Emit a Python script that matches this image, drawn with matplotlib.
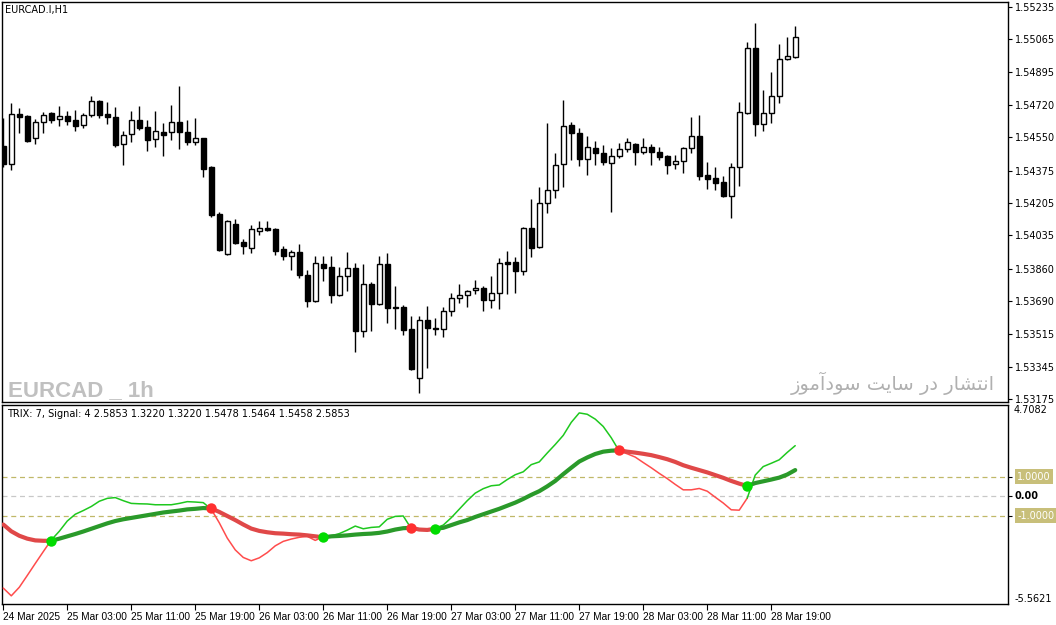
import numpy as np
import matplotlib
matplotlib.use("Agg")
import matplotlib.pyplot as plt
from matplotlib import font_manager

plt.rcParams['font.family'] = ['DejaVu Sans']

# EURCAD H1 candles, 24 Mar 19:00 .. 28 Mar 22:00
opens = [1.54504, 1.54409, 1.54672, 1.54661, 1.54546, 1.54630, 1.54677, 1.54645, 1.54661, 1.54640,
         1.54614, 1.54666, 1.54740, 1.54672, 1.54656, 1.54514, 1.54567, 1.54640, 1.54603, 1.54540,
         1.54577, 1.54577, 1.54630, 1.54577, 1.54525, 1.54546, 1.54393, 1.54147, 1.53937, 1.54094,
         1.54000, 1.53968, 1.54057, 1.54073, 1.54068, 1.53963, 1.53926, 1.53947, 1.53826, 1.53690,
         1.53884, 1.53868, 1.53721, 1.53821, 1.53863, 1.53532, 1.53779, 1.53674, 1.53884, 1.53658,
         1.53658, 1.53543, 1.53286, 1.53590, 1.53548, 1.53543, 1.53637, 1.53706, 1.53721, 1.53748,
         1.53758, 1.53695, 1.53732, 1.53895, 1.53895, 1.53847, 1.54073, 1.53973, 1.54204, 1.54273,
         1.54409, 1.54614, 1.54572, 1.54435, 1.54493, 1.54467, 1.54414, 1.54451, 1.54488, 1.54514,
         1.54472, 1.54498, 1.54472, 1.54451, 1.54409, 1.54425, 1.54493, 1.54556, 1.54351, 1.54336,
         1.54315, 1.54241, 1.54393, 1.54677, 1.55018, 1.54619, 1.54677, 1.54766, 1.54960, 1.54971]
highs = [1.54651, 1.54729, 1.54703, 1.54666, 1.54645, 1.54682, 1.54682, 1.54714, 1.54687, 1.54693,
         1.54677, 1.54766, 1.54745, 1.54735, 1.54708, 1.54582, 1.54687, 1.54714, 1.54640, 1.54687,
         1.54624, 1.54719, 1.54819, 1.54640, 1.54651, 1.54546, 1.54399, 1.54157, 1.54115, 1.54120,
         1.54015, 1.54089, 1.54110, 1.54110, 1.54073, 1.53978, 1.53958, 1.53989, 1.53852, 1.53926,
         1.53926, 1.53926, 1.53868, 1.53947, 1.53889, 1.53884, 1.53790, 1.53926, 1.53942, 1.53769,
         1.53669, 1.53611, 1.53611, 1.53664, 1.53601, 1.53658, 1.53732, 1.53779, 1.53748, 1.53800,
         1.53769, 1.53821, 1.53916, 1.53952, 1.53921, 1.54078, 1.54225, 1.54288, 1.54624, 1.54467,
         1.54745, 1.54630, 1.54598, 1.54556, 1.54530, 1.54509, 1.54493, 1.54519, 1.54546, 1.54519,
         1.54546, 1.54514, 1.54498, 1.54456, 1.54456, 1.54498, 1.54656, 1.54666, 1.54420, 1.54393,
         1.54346, 1.54414, 1.54735, 1.55050, 1.55149, 1.54798, 1.54892, 1.55039, 1.55076, 1.55134]
lows = [1.54393, 1.54378, 1.54572, 1.54525, 1.54514, 1.54572, 1.54624, 1.54609, 1.54614, 1.54582,
        1.54598, 1.54656, 1.54651, 1.54619, 1.54498, 1.54404, 1.54525, 1.54588, 1.54477, 1.54498,
        1.54451, 1.54535, 1.54488, 1.54509, 1.54509, 1.54341, 1.54131, 1.53952, 1.53931, 1.53990,
        1.53937, 1.53942, 1.54036, 1.54057, 1.53931, 1.53905, 1.53852, 1.53810, 1.53658, 1.53684,
        1.53795, 1.53679, 1.53716, 1.53742, 1.53422, 1.53501, 1.53532, 1.53669, 1.53574, 1.53543,
        1.53511, 1.53328, 1.53207, 1.53338, 1.53511, 1.53501, 1.53611, 1.53679, 1.53658, 1.53727,
        1.53637, 1.53653, 1.53648, 1.53727, 1.53732, 1.53826, 1.53921, 1.53968, 1.54152, 1.54231,
        1.54288, 1.54430, 1.54399, 1.54351, 1.54404, 1.54404, 1.54157, 1.54441, 1.54472, 1.54404,
        1.54462, 1.54404, 1.54430, 1.54357, 1.54383, 1.54362, 1.54467, 1.54325, 1.54278, 1.54273,
        1.54236, 1.54126, 1.54294, 1.54672, 1.54556, 1.54582, 1.54624, 1.54729, 1.54955, 1.54966]
closes = [1.54409, 1.54672, 1.54656, 1.54530, 1.54630, 1.54666, 1.54640, 1.54661, 1.54635, 1.54609,
          1.54666, 1.54740, 1.54666, 1.54656, 1.54509, 1.54561, 1.54640, 1.54598, 1.54535, 1.54582,
          1.54561, 1.54630, 1.54577, 1.54525, 1.54546, 1.54383, 1.54141, 1.53958, 1.54110, 1.53994,
          1.53978, 1.54068, 1.54073, 1.54062, 1.53952, 1.53926, 1.53947, 1.53826, 1.53690, 1.53889,
          1.53863, 1.53721, 1.53821, 1.53863, 1.53532, 1.53779, 1.53674, 1.53884, 1.53653, 1.53655,
          1.53538, 1.53333, 1.53590, 1.53548, 1.53543, 1.53637, 1.53706, 1.53721, 1.53742, 1.53758,
          1.53695, 1.53732, 1.53889, 1.53884, 1.53847, 1.54073, 1.53968, 1.54204, 1.54273, 1.54404,
          1.54609, 1.54572, 1.54435, 1.54498, 1.54467, 1.54420, 1.54451, 1.54488, 1.54525, 1.54472,
          1.54498, 1.54472, 1.54446, 1.54404, 1.54425, 1.54493, 1.54556, 1.54346, 1.54330, 1.54309,
          1.54241, 1.54393, 1.54682, 1.55018, 1.54619, 1.54677, 1.54766, 1.54960, 1.54976, 1.55076]

# TRIX(7) and its signal(4)
trix = [-4.74, -5.14, -4.70, -4.09, -3.47, -2.86, -2.26, -1.81, -1.28, -0.93,
        -0.74, -0.53, -0.26, -0.11, -0.07, -0.23, -0.37, -0.39, -0.40, -0.44,
        -0.44, -0.44, -0.37, -0.28, -0.30, -0.33, -0.67, -1.37, -2.16, -2.77,
        -3.16, -3.33, -3.18, -2.91, -2.56, -2.33, -2.21, -2.12, -2.07, -2.28,
        -2.09, -2.04, -1.93, -1.75, -1.54, -1.68, -1.61, -1.58, -1.19, -1.04,
        -1.02, -1.67, -1.74, -1.75, -1.65, -1.49, -1.11, -0.67, -0.23, 0.16,
        0.39, 0.54, 0.58, 0.86, 1.11, 1.26, 1.63, 1.77, 2.23, 2.67,
        3.14, 3.81, 4.30, 4.23, 3.98, 3.60, 3.02, 2.33, 2.19, 2.02,
        1.74, 1.47, 1.18, 0.91, 0.61, 0.33, 0.33, 0.40, 0.26, -0.05,
        -0.35, -0.70, -0.72, -0.10, 1.09, 1.53, 1.70, 1.88, 2.26, 2.61]
signal = [-1.46, -1.81, -2.04, -2.19, -2.28, -2.30, -2.30, -2.19, -2.07, -1.95,
          -1.82, -1.68, -1.54, -1.40, -1.28, -1.19, -1.12, -1.05, -0.98, -0.91,
          -0.84, -0.79, -0.74, -0.68, -0.65, -0.61, -0.63, -0.81, -1.02, -1.23,
          -1.46, -1.67, -1.79, -1.86, -1.91, -1.93, -1.96, -1.98, -2.02, -2.07,
          -2.12, -2.07, -2.05, -2.02, -1.98, -1.95, -1.93, -1.89, -1.82, -1.72,
          -1.65, -1.63, -1.72, -1.74, -1.68, -1.63, -1.49, -1.35, -1.23, -1.07,
          -0.93, -0.79, -0.65, -0.49, -0.33, -0.14, 0.07, 0.26, 0.51, 0.79,
          1.14, 1.47, 1.79, 2.00, 2.18, 2.30, 2.35, 2.37, 2.30, 2.25,
          2.19, 2.12, 2.02, 1.91, 1.77, 1.60, 1.47, 1.35, 1.23, 1.09,
          0.95, 0.79, 0.65, 0.53, 0.68, 0.77, 0.86, 0.96, 1.12, 1.35]
cross_up = [6, 40, 54, 93]
cross_dn = [26, 51, 77]

price_ticks = [1.55235, 1.55065, 1.54895, 1.54720, 1.54550, 1.54375, 1.54205,
               1.54035, 1.53860, 1.53690, 1.53515, 1.53345, 1.53175]
time_labels = ['24 Mar 2025', '25 Mar 03:00', '25 Mar 11:00', '25 Mar 19:00', '26 Mar 03:00',
               '26 Mar 11:00', '26 Mar 19:00', '27 Mar 03:00', '27 Mar 11:00', '27 Mar 19:00',
               '28 Mar 03:00', '28 Mar 11:00', '28 Mar 19:00']
trix_max, trix_min = 4.7082, -5.5621

W, H = 1056, 625
fig = plt.figure(figsize=(W / 100, H / 100), dpi=100)
fig.patch.set_facecolor('white')

def box(x0, y0, x1, y1):
    return [x0 / W, 1 - y1 / H, (x1 - x0) / W, (y1 - y0) / H]

ax = fig.add_axes(box(2, 2, 1008, 402))
ax2 = fig.add_axes(box(2, 405, 1008, 604))

n = len(closes)
idx = np.arange(n)
o = np.array(opens); c = np.array(closes)
hi = np.array(highs); lo = np.array(lows)

# candles
ax.vlines(idx, lo, hi, color='black', lw=1, zorder=2)
bull = c >= o
bottoms = np.minimum(o, c)
heights = np.maximum(np.abs(c - o), 0.00002)
ax.bar(idx, heights, 0.6, bottom=bottoms, color=np.where(bull, 'white', 'black'),
       edgecolor='black', linewidth=1, zorder=3)

for a in (ax, ax2):
    a.set_xlim(-0.16, 125.6)
    for s in a.spines.values():
        s.set_color('black')
        s.set_linewidth(1)

ax.set_ylim(1.53160, 1.55260)
ax.yaxis.tick_right()
ax.set_yticks(price_ticks)
ax.set_yticklabels(['%.5f' % p for p in price_ticks])
ax.tick_params(axis='y', labelsize=7, length=3, pad=2)
ax.set_xticks([])

fig.text(5 / W, 1 - 10 / H, 'EURCAD.I,H1', fontsize=7, va='center', ha='left')

# big watermark: narrow bold face if one is installed
names = {f.name for f in font_manager.fontManager.ttflist}
if 'DejaVu Sans Condensed' in names:
    wm_font, wm_size = ['DejaVu Sans Condensed'], 17
elif 'Liberation Sans Narrow' in names:
    wm_font, wm_size = ['Liberation Sans Narrow'], 19
else:
    wm_font, wm_size = ['Liberation Sans'], 16
fig.text(8 / W, 1 - 396 / H, 'EURCAD _ 1h', fontsize=wm_size, fontweight='bold',
         family=wm_font, color='#c0c0c0', va='baseline')

# Persian watermark in visual order with presentation forms
fa = ('\uFEAF\uFEEE\uFEE3\uFE81\uFEA9\uFEEE\uFEB3' + ' ' +
      '\uFE96\uFEF3\uFE8E\uFEB3' + ' ' +
      '\uFEAD\uFEA9' + ' ' +
      '\uFEAD\uFE8E\uFEB8\uFE98\uFEE7\uFE8D')
fig.text(995 / W, 1 - 390 / H, fa, fontsize=14, color='#b0b0b0', ha='right', va='baseline')

# TRIX panel
ax2.set_ylim(trix_min, trix_max)
ax2.axhline(1.0, color='#c0b868', lw=0.9, ls=(0, (4, 3)))
ax2.axhline(-1.0, color='#c0b868', lw=0.9, ls=(0, (4, 3)))
ax2.axhline(0.0, color='#c8c8c8', lw=0.9, ls=(0, (4, 3)))

state = np.zeros(n - 1, dtype=bool)
cur = False
for i in range(n - 1):
    if i in cross_up:
        cur = True
    elif i in cross_dn:
        cur = False
    state[i] = cur

def colored_line(a, y, lw, c_up, c_dn, z):
    y = np.asarray(y)
    start = 0
    for i in range(1, n):
        if i == n - 1 or state[i] != state[start]:
            seg = slice(start, i + 1)
            a.plot(idx[seg], y[seg], color=c_up if state[start] else c_dn, lw=lw,
                   solid_capstyle='round', solid_joinstyle='round', zorder=z)
            start = i

colored_line(ax2, trix, 1.1, '#1ec81e', '#ff4c4c', 3)
colored_line(ax2, signal, 3.0, '#2a9a2a', '#e04848', 4)
sig = np.array(signal)
ax2.plot(cross_up, sig[cross_up], 'o', color='#00dc00', ms=7.5, mec='none', zorder=6)
ax2.plot(cross_dn, sig[cross_dn], 'o', color='#ff3030', ms=7.5, mec='none', zorder=6)

ax2.yaxis.tick_right()
ax2.set_yticks([1.0, 0.0, -1.0])
ax2.set_yticklabels([])
ax2.tick_params(axis='y', length=3)
yt = ax2.get_yaxis_transform()
ax2.text(1.006, trix_max, '4.7082', transform=yt, fontsize=7, va='top', ha='left')
ax2.text(1.006, trix_min, '-5.5621', transform=yt, fontsize=7, va='bottom', ha='left')
ax2.text(1.006, 0.0, '0.00', transform=yt, fontsize=7, va='center', ha='left', fontweight='bold')
for lv, lab in [(1.0, '1.0000'), (-1.0, '-1.0000')]:
    ax2.text(1.009, lv, lab, transform=yt, fontsize=7, va='center', ha='left', color='white',
             bbox=dict(boxstyle='square,pad=0.25', fc='#c8bf7a', ec='none'))

ax2.set_xticks(np.arange(0, 100, 8))
ax2.set_xticklabels(time_labels, ha='left', fontsize=7.3, family=['Liberation Sans', 'DejaVu Sans'])
ax2.tick_params(axis='x', length=4, pad=2)

fig.text(7 / W, 1 - 414 / H, 'TRIX: 7, Signal: 4 2.5853 1.3220 1.3220 1.5478 1.5464 1.5458 2.5853',
         fontsize=7, va='center', ha='left')

fig.savefig('out.png', dpi=100)
